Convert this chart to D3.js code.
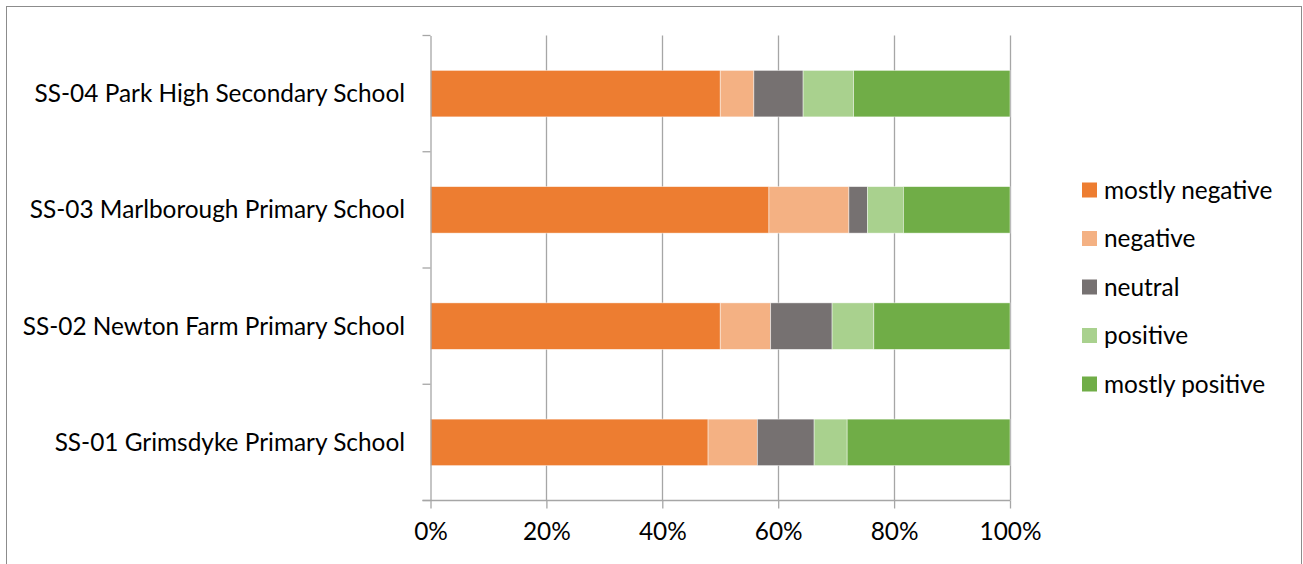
<!DOCTYPE html>
<html>
<head>
<meta charset="utf-8">
<script src="https://cdn.jsdelivr.net/npm/d3@7"></script>
<style>
  html, body { margin: 0; padding: 0; background: #fff; }
  svg { display: block; }
  text { font-family: Lato, "Open Sans", sans-serif; fill: #000; }
</style>
</head>
<body>
<svg id="chart" width="1303" height="564"></svg>
<script>
// ---- data ----
const categories = [
  "SS-04 Park High Secondary School",
  "SS-03 Marlborough Primary School",
  "SS-02 Newton Farm Primary School",
  "SS-01 Grimsdyke Primary School"
];
const seriesNames = ["mostly negative", "negative", "neutral", "positive", "mostly positive"];
const mostlyNegative = [50.0, 58.4, 50.0, 47.9];
const negative       = [5.8, 13.8, 8.7, 8.5];
const neutral        = [8.5, 3.2, 10.6, 9.8];
const positive       = [8.7, 6.2, 7.2, 5.7];
const mostlyPositive = [27.0, 18.4, 23.5, 28.1];
const xTicks = [0, 0.2, 0.4, 0.6, 0.8, 1.0];
const colors = ["#ED7D31", "#F4B183", "#767171", "#A9D18E", "#70AD47"];

(function () {
const seriesValues = [mostlyNegative, negative, neutral, positive, mostlyPositive];
const rows = categories.map((c, i) => {
  const r = { cat: c };
  seriesNames.forEach((s, j) => r[s] = seriesValues[j][i]);
  return r;
});

const svg = d3.select("#chart");

// chart border
svg.append("rect").attr("x", 6.5).attr("y", 6.5).attr("width", 1295).attr("height", 570)
  .attr("fill", "none").attr("stroke", "#8c8c8c").attr("stroke-width", 1);

const pLeft = 430.5, pRight = 1010, pTop = 35.5, pBottom = 500.5;

const x = d3.scaleLinear().domain([0, 1]).range([pLeft, pRight]);
const y = d3.scaleBand().domain(categories).range([pTop, pBottom]).paddingInner(0.6).paddingOuter(0.3);
const yCat = d3.scaleBand().domain(categories).range([pTop, pBottom]);

// font size fitted so the longest category label spans ~375px
const probe = svg.append("text").style("font-size", "20px").text(categories[1]);
const w20 = probe.node().getComputedTextLength();
probe.remove();
const fs = Math.round(20 * 375 / w20 * 10) / 10;

// gridlines
svg.append("g").selectAll("line").data(xTicks.slice(1)).join("line")
  .attr("x1", d => Math.round(x(d)) + 0.5).attr("x2", d => Math.round(x(d)) + 0.5)
  .attr("y1", pTop).attr("y2", pBottom)
  .attr("stroke", "#a6a6a6").attr("stroke-width", 1.3);

// stacked bars
const stack = d3.stack().keys(seriesNames).value((d, k) => d[k] / 100);
const stacked = stack(rows);
svg.append("g").selectAll("g").data(stacked).join("g")
  .attr("fill", (d, i) => colors[i])
  .selectAll("rect").data(d => d).join("rect")
  .attr("x", d => x(d[0]))
  .attr("width", d => x(d[1]) - x(d[0]))
  .attr("y", d => y(d.data.cat))
  .attr("height", y.bandwidth())
  .attr("stroke", "#ffffff").attr("stroke-opacity", 0.6).attr("stroke-width", 0.75);

// y axis (category)
const yAxis = d3.axisLeft(yCat).tickSize(0).tickFormat("");
const yg = svg.append("g").attr("transform", `translate(${pLeft},0)`).call(yAxis);
yg.select(".domain").attr("stroke", "#a6a6a6").attr("stroke-width", 1.3);
// category boundary tick marks
svg.append("g").selectAll("line").data(d3.range(categories.length + 1)).join("line")
  .attr("x1", pLeft - 8).attr("x2", pLeft)
  .attr("y1", i => pTop + i * yCat.step()).attr("y2", i => pTop + i * yCat.step())
  .attr("stroke", "#a6a6a6").attr("stroke-width", 1.3);
// category labels
svg.append("g").selectAll("text").data(categories).join("text")
  .attr("x", 405).attr("y", d => yCat(d) + yCat.bandwidth() / 2)
  .attr("dy", "0.35em").attr("text-anchor", "end")
  .style("font-size", fs + "px").text(d => d);

// x axis
const xAxis = d3.axisBottom(x).tickValues(xTicks).tickSize(8).tickFormat(d3.format(".0%")).tickPadding(14);
const xg = svg.append("g").attr("transform", `translate(0,${pBottom})`).call(xAxis);
xg.select(".domain").attr("stroke", "#a6a6a6").attr("stroke-width", 1.3)
  .attr("d", `M${pLeft - 8},0H${pRight}`);
xg.selectAll(".tick line").attr("stroke", "#a6a6a6").attr("stroke-width", 1.3);
xg.selectAll(".tick text").style("font-size", fs + "px").style("font-family", "Lato, 'Open Sans', sans-serif").attr("fill", "#000");

// legend
const legY = d3.scalePoint().domain(seriesNames).range([190, 384]);
const lg = svg.append("g").selectAll("g").data(seriesNames).join("g")
  .attr("transform", d => `translate(1082,${legY(d)})`);
lg.append("rect").attr("x", 0).attr("y", -7.5).attr("width", 15).attr("height", 15)
  .attr("fill", (d, i) => colors[i]);
lg.append("text").attr("x", 22).attr("y", 0).attr("dy", "0.35em")
  .style("font-size", fs + "px").text(d => d);
})();
</script>
</body>
</html>
